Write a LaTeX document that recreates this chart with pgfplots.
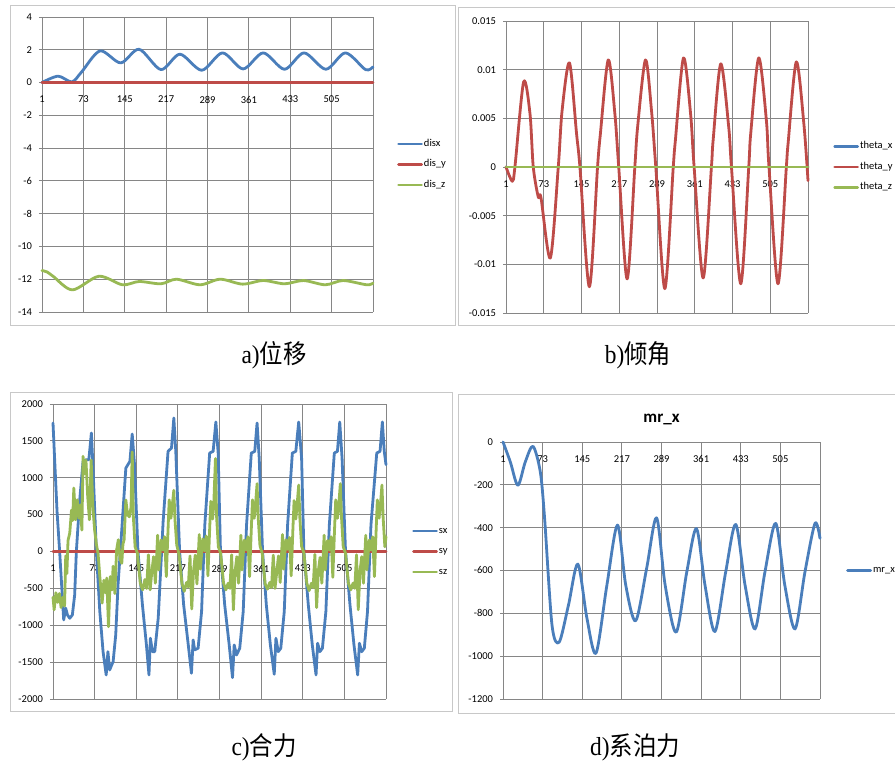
\documentclass[border=0pt]{standalone}
\usepackage{pgfplots}
\pgfplotsset{compat=1.18}
\usepackage{graphicx}
\usepackage{fontspec}
\setmainfont{Carlito}
\newfontfamily\cjk{Noto Sans CJK SC}
\newfontfamily\tnr{Liberation Serif}
\definecolor{xblue}{RGB}{74,126,187}
\definecolor{xred}{RGB}{190,75,72}
\definecolor{xgreen}{RGB}{152,185,84}
\definecolor{xgrid}{RGB}{134,134,134}
\definecolor{xframe}{RGB}{200,200,200}

\pgfplotsset{
  xlchart/.style={
    scale only axis, anchor=south west, clip=false,
    axis x line=middle, axis y line=left,
    axis line style={-, draw=xgrid, line width=0.8pt},
    grid=major, major grid style={draw=xgrid, line width=0.8pt},
    hide obscured x ticks=false, hide obscured y ticks=false,
    scaled ticks=false,
    xmin=1, xmax=577,
    xtick={1,73,145,217,289,361,433,505,577},
    xticklabels={1,73,145,217,289,361,433,505,},
    xtick style={draw=none},
    ytick style={draw=xgrid, line width=0.8pt},
    tick align=outside, major tick length=3pt,
    tick label style={font=\fontsize{10.5}{12}\selectfont, text=black},
    xticklabel style={anchor=north, yshift=-7pt},
    yticklabel style={anchor=east, xshift=-3.5pt},
    legend cell align=left,
    legend style={draw=none, fill=none, font=\fontsize{10.5}{12}\selectfont,
      anchor=west, inner sep=0pt, row sep=7.5pt,
      nodes={inner sep=1pt, text height=8pt, text depth=3pt}},
    legend image code/.code={\draw[#1] (0pt,0pt) -- (23pt,0pt);},
    every axis plot/.append style={line width=2.8pt, line join=round, line cap=round, no marks},
  }
}

\begin{document}
\begin{tikzpicture}[x=1pt,y=1pt]
\useasboundingbox (0,0) rectangle (895,762);
\fill[white] (0,0) rectangle (895,762);
% chart frames
\draw[xframe, line width=0.8pt] (10,757) rectangle (455,437);
\draw[xframe, line width=0.8pt] (458,755) rectangle (900,437);
\draw[xframe, line width=0.8pt] (10,370) rectangle (452,51);
\draw[xframe, line width=0.8pt] (458,368) rectangle (900,49);

% ---------------- a) displacement
\begin{axis}[xlchart, at={(42pt,450pt)}, width=331pt, height=295pt,
  ymin=-14, ymax=4, ytick={-14,-12,...,4},
  yticklabels={-14,-12,-10,-8,-6,-4,-2,0,2,4},
  legend style={at={(axis description cs:1.0725,0.5)}}]
\addplot[xblue, smooth] coordinates {(1,0) (29,0.39) (53,0.04) (70,0.65) (102,1.93) (138,1.2) (170,2.03) (208,0.79) (241,1.73) (279,0.75) (315,1.81) (351,0.83) (386,1.81) (423,0.81) (457,1.81) (495,0.81) (529,1.81) (564,0.79) (577,0.96)};
\addlegendentry{disx}
\addplot[xred] coordinates {(1,0) (577,0)};
\addlegendentry{dis\_y}
\addplot[xgreen, smooth] coordinates {(1,-11.47) (10,-11.56) (21,-11.84) (54,-12.65) (100,-11.82) (141,-12.34) (170,-12.14) (208,-12.28) (235,-12.0) (276,-12.34) (311,-12.0) (350,-12.3) (386,-12.08) (423,-12.28) (456,-12.08) (494,-12.34) (525,-12.08) (566,-12.34) (577,-12.24)};
\addlegendentry{dis\_z}
\end{axis}

% ---------------- b) inclination
\begin{axis}[xlchart, at={(506pt,449pt)}, width=302pt, height=292pt,
  ymin=-0.015, ymax=0.015, ytick={-0.015,-0.01,-0.005,0,0.005,0.01,0.015},
  yticklabels={-0.015,-0.01,-0.005,0,0.005,0.01,0.015},
  legend style={at={(axis description cs:1.083,0.5)}}]
\addplot[xblue] coordinates {(1,0) (577,0)};
\addlegendentry{theta\_x}
\addplot[xred, smooth] coordinates {(1,0) (13,-0.00147) (18,0) (34.6,0.00873) (46.7,0.0055) (53,0) (62.6,-0.0031) (67.7,-0.00315) (85.5,-0.00935) (100.7,0) (108,0.0058) (122,0.0107) (135.6,0.0034) (142,0) (160,-0.0123) (175.6,0) (181,0.0034) (196,0.011) (208.6,0.0055) (216,0) (232,-0.0115) (246.7,0) (252,0.0041) (267,0.011) (278.5,0.0058) (286.7,0) (303.9,-0.0125) (320,0) (324,0.0027) (339.5,0.0112) (353,0.0055) (359.8,0) (377,-0.0114) (392.8,0) (396,0.0027) (410.6,0.0106) (425.8,0.0041) (431,0) (448.7,-0.012) (464,0) (467.7,0.0034) (483,0.0112) (497.6,0.0048) (502.6,0) (519.8,-0.012) (535.7,0) (539,0.0024) (554.7,0.0108) (569,0.0045) (577,-0.0014)};
\addlegendentry{theta\_y}
\addplot[xgreen] coordinates {(1,0) (577,0)};
\addlegendentry{theta\_z}
\end{axis}

% ---------------- c) resultant force
\begin{axis}[xlchart, at={(53pt,63pt)}, width=333pt, height=295pt,
  ymin=-2000, ymax=2000, ytick={-2000,-1500,...,2000},
  yticklabels={-2000,-1500,-1000,-500,0,500,1000,1500,2000},
  legend style={at={(axis description cs:1.078,0.5)}}]
\addplot[xblue] coordinates {(1,1742) (4,1222) (8,543) (12.5,0) (19.5,-928) (23,-769) (26,-860) (30,-905) (34.5,-860) (38.5,-588) (41.4,0) (47,679) (53,1222) (58.7,1244) (63,1244) (67.4,1606) (70,1177) (76,0) (82,-815) (87.6,-1358) (93,-1674) (96,-1358) (99,-1606) (105,-1493) (109.5,-1131) (113.5,-452) (119,181) (127,1131) (134,1222) (138,1593) (142,1177) (148,0) (155.7,-724) (162.6,-1267) (167,-1674) (169.5,-1176) (173,-1358) (177,-1358) (183,-905) (191.5,407) (200,1358) (206,1403) (210,1810) (213.4,1358) (220,0) (227,-724) (235,-1267) (240.5,-1651) (243.4,-1199) (246,-1335) (252,-1312) (258,-815) (263.6,362) (272,1335) (278,1358) (282.7,1756) (286.7,1335) (290.7,0) (298,-724) (305.8,-1267) (311.5,-1710) (314.4,-1267) (318.5,-1403) (324,-1312) (330,-815) (335.8,362) (344,1335) (350,1358) (354,1742) (357.7,1267) (363.5,0) (370,-724) (377,-1267) (383.7,-1665) (386.6,-1177) (390.6,-1358) (395,-1312) (401,-815) (406.8,362) (415,1335) (421,1358) (426,1756) (431,1267) (435,0) (442.6,-724) (449.5,-1267) (456,-1674) (458.7,-1244) (462.7,-1358) (467,-1312) (473,-815) (479,362) (487.6,1335) (493,1358) (497,1756) (501,1267) (507,0) (514.7,-724) (521.6,-1267) (528,-1674) (531,-1244) (535,-1358) (539.5,-1312) (545,-815) (551,362) (561,1335) (566.7,1358) (570.7,1756) (574,1358) (577,1177)};
\addlegendentry{sx}
\addplot[xred] coordinates {(1,0) (577,0)};
\addlegendentry{sy}
\addplot[xgreen] coordinates {(1,-620) (3,-790) (6,-560) (9,-690) (12,-570) (15,-760) (18,-620) (21,-740) (23,-60) (25,-300) (27,150) (30,250) (33,560) (35,420) (37,860) (40,430) (43,700) (46,450) (48,630) (51,290) (53,1290) (55,1050) (58,1240) (61,750) (64,430) (67,1240) (70,600) (73,290) (76,100) (79,-30) (82,-340) (86,-700) (89,-390) (92,-560) (94,-360) (97,-1020) (100,-340) (103,-520) (105,-200) (108,-570) (111,20) (114,160) (117,-100) (120,-160) (122,100) (124,160) (127,700) (130,500) (133,470) (136,600)
(138,1350) (140,470) (143,65) (147,-25) (152,-430) (156,-520) (160,-380) (163,-500) (166,-45) (169,-520) (172,-270) (175,-70) (178,-430) (182,220) (184,-250) (188,155) (191,20) (194,200) (197,-340) (200,300) (202,700) (205,450) (207,600)
(210,830) (212,430) (215,90) (219,-40) (224,-430) (228,-540) (232,-420) (235,-480) (238,-60) (241,-780) (244,-270) (247,-50) (250,-440) (254,230) (256,-240) (260,170) (263,10) (266,210) (269,-330) (272,310) (274,680) (277,440) (279,620)
(282,1260) (284,470) (287,65) (291,-25) (296,-430) (300,-520) (304,-430) (307,-500) (310,-45) (313,-790) (316,-270) (319,-70) (322,-430) (326,220) (328,-250) (332,155) (335,20) (338,200) (341,-340) (344,300) (346,700) (349,450) (351,600)
(354,920) (356,450) (359,80) (363,-30) (368,-440) (372,-510) (376,-420) (379,-490) (382,-50) (385,-500) (388,-280) (391,-60) (394,-420) (398,230) (400,-240) (404,160) (407,30) (410,190) (413,-330) (416,310) (418,690) (421,440) (423,610)
(426,900) (428,460) (431,70) (435,-20) (440,-430) (444,-530) (448,-430) (451,-490) (454,-40) (457,-760) (460,-260) (463,-80) (466,-430) (470,220) (472,-250) (476,150) (479,20) (482,200) (485,-350) (488,300) (490,700) (493,450) (495,590)
(498,920) (500,470) (503,65) (507,-25) (512,-430) (516,-520) (520,-430) (523,-500) (526,-45) (529,-790) (532,-270) (535,-70) (538,-430) (542,220) (544,-250) (548,155) (551,20) (554,200) (557,-340) (560,300) (562,700) (565,450) (567,600)
(570,900) (572,470) (575,65) (577,200)};
\addlegendentry{sz}
\end{axis}

% ---------------- d) mooring force
\begin{axis}[xlchart, at={(503pt,63pt)}, width=317pt, height=257pt,
  ymin=-1200, ymax=0, ytick={-1200,-1000,...,0},
  yticklabels={-1200,-1000,-800,-600,-400,-200,0},
  title={mr\_x},
  title style={font=\bfseries\fontsize{17}{20}\selectfont, at={(0.5,1)}, anchor=center, yshift=17pt},
  legend style={at={(axis description cs:1.082,0.5)}}]
\addplot[xblue, smooth] coordinates {(1,0) (14.3,-93) (28,-202) (41.5,-93) (55.5,-20) (68.8,-140) (76.6,-357) (90,-854) (103,-935) (120,-761) (137,-570) (153.5,-823) (170,-986) (189.8,-668) (209,-388) (224,-668) (242,-835) (262,-590) (280,-354) (295.6,-668) (315.6,-888) (335,-606) (352.5,-404) (368,-668) (386,-885) (405.7,-606) (423.9,-385) (440.8,-668) (459,-873) (477,-606) (496.5,-380) (513,-668) (531.6,-873) (549.7,-606) (567.9,-380) (577,-450)};
\addlegendentry{mr\_x}
\end{axis}

% captions
\node[font=\fontsize{26}{30}\selectfont] at (274,407) {\scalebox{0.9}[1]{\tnr a)\cjk 位移}};
\node[font=\fontsize{26}{30}\selectfont] at (638,407) {\scalebox{0.9}[1]{\tnr b)\cjk 倾角}};
\node[font=\fontsize{26}{30}\selectfont] at (264,15) {\scalebox{0.9}[1]{\tnr c)\cjk 合力}};
\node[font=\fontsize{26}{30}\selectfont] at (635,15) {\scalebox{0.9}[1]{\tnr d)\cjk 系泊力}};
\end{tikzpicture}
\end{document}
